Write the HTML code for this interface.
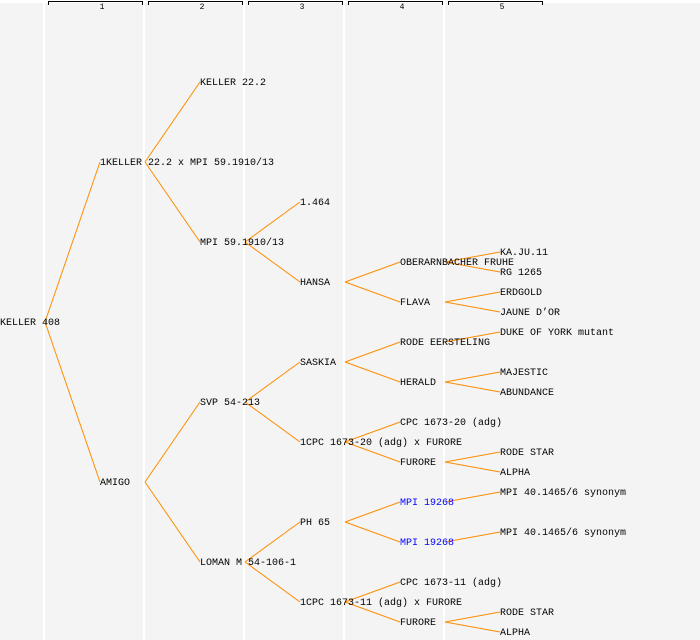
<!DOCTYPE html>
<html><head><meta charset="utf-8"><style>
html,body{margin:0;padding:0;background:#f4f4f4;}
svg{display:block;}
text{font-family:"Liberation Mono","DejaVu Sans Mono",monospace;font-size:10px;fill:#000;}
</style></head><body>
<svg width="700" height="640" xmlns="http://www.w3.org/2000/svg">
<rect x="0" y="0" width="700" height="640" fill="#f4f4f4"/>
<rect x="0" y="0" width="700" height="3" fill="#fff"/>
<g stroke="#fff" stroke-width="2">
<line x1="44" y1="0" x2="44" y2="640"/><line x1="144" y1="0" x2="144" y2="640"/><line x1="244" y1="0" x2="244" y2="640"/><line x1="344" y1="0" x2="344" y2="640"/><line x1="444" y1="0" x2="444" y2="640"/>
</g>
<g stroke="#000" stroke-width="1" fill="none">
<path d="M48.5,5V1.5H142.5V5"/><path d="M148.5,5V1.5H242.5V5"/><path d="M248.5,5V1.5H342.5V5"/><path d="M348.5,5V1.5H442.5V5"/><path d="M448.5,5V1.5H542.5V5"/>
</g>
<g text-anchor="middle">
<text x="102" y="9" style="font-size:8px">1</text><text x="202" y="9" style="font-size:8px">2</text><text x="302" y="9" style="font-size:8px">3</text><text x="402" y="9" style="font-size:8px">4</text><text x="502" y="9" style="font-size:8px">5</text>
</g>
<g stroke="#ff8c00" stroke-width="1" fill="none">
<path d="M45,322L100,162M45,322L100,482"/>
<path d="M145,162L200,82M145,162L200,242M145,482L200,402M145,482L200,562"/>
<path d="M245,242L300,202M245,242L300,282M245,402L300,362M245,402L300,442M245,562L300,522M245,562L300,602"/>
<path d="M345,282L400,262M345,282L400,302M345,362L400,342M345,362L400,382M345,442L400,422M345,442L400,462M345,522L400,502M345,522L400,542M345,602L400,582M345,602L400,622"/>
<path d="M445,262L500,252M445,262L500,272M445,302L500,292M445,302L500,312M445,342L500,332M445,382L500,372M445,382L500,392M445,462L500,452M445,462L500,472M445,502L500,492M445,542L500,532M445,622L500,612M445,622L500,632"/>
</g>
<g transform="translate(0,-1)">
<text x="0" y="326">KELLER 408</text>
<text x="100" y="166">1KELLER 22.2 x MPI 59.1910/13</text>
<text x="100" y="486">AMIGO</text>
<text x="200" y="86">KELLER 22.2</text>
<text x="200" y="246">MPI 59.1910/13</text>
<text x="200" y="406">SVP 54-213</text>
<text x="200" y="566">LOMAN M 54-106-1</text>
<text x="300" y="206">1.464</text>
<text x="300" y="286">HANSA</text>
<text x="300" y="366">SASKIA</text>
<text x="300" y="446">1CPC 1673-20 (adg) x FURORE</text>
<text x="300" y="526">PH 65</text>
<text x="300" y="606">1CPC 1673-11 (adg) x FURORE</text>
<text x="400" y="266">OBERARNBACHER FRUHE</text>
<text x="400" y="306">FLAVA</text>
<text x="400" y="346">RODE EERSTELING</text>
<text x="400" y="386">HERALD</text>
<text x="400" y="426">CPC 1673-20 (adg)</text>
<text x="400" y="466">FURORE</text>
<text x="400" y="506" style="fill:#0000ff">MPI 19268</text>
<text x="400" y="546" style="fill:#0000ff">MPI 19268</text>
<text x="400" y="586">CPC 1673-11 (adg)</text>
<text x="400" y="626">FURORE</text>
<text x="500" y="256">KA.JU.11</text>
<text x="500" y="276">RG 1265</text>
<text x="500" y="296">ERDGOLD</text>
<text x="500" y="316">JAUNE D’OR</text>
<text x="500" y="336">DUKE OF YORK mutant</text>
<text x="500" y="376">MAJESTIC</text>
<text x="500" y="396">ABUNDANCE</text>
<text x="500" y="456">RODE STAR</text>
<text x="500" y="476">ALPHA</text>
<text x="500" y="496">MPI 40.1465/6 synonym</text>
<text x="500" y="536">MPI 40.1465/6 synonym</text>
<text x="500" y="616">RODE STAR</text>
<text x="500" y="636">ALPHA</text>
</g>
</svg>
</body></html>
